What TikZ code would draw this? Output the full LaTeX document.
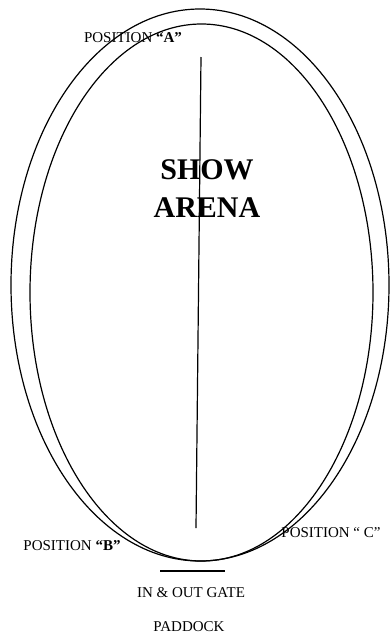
\documentclass[tikz,border=0pt]{standalone}
\usepackage{fontspec}
\setmainfont{Liberation Serif}
\usetikzlibrary{positioning}

\begin{document}
\begin{tikzpicture}[x=1pt, y=-1pt,
      every node/.style={font=\fontsize{15}{18}\selectfont, inner sep=0pt},
      track/.style={draw, line width=1.2pt},
      tag/.style={anchor=base},
      title/.style={font=\bfseries\fontsize{30}{38}\selectfont, align=center}]
    \useasboundingbox (0,0) rectangle (391,633);
    % the two rings of the arena
    \draw[track] (200,285) ellipse [x radius=189, y radius=276];
    \draw[track] (201.5,292.5) ellipse [x radius=171.5, y radius=268.5];
    % centre line
    \coordinate (lineTop) at (201,57);
    \coordinate (lineBot) at (196,528);
    \draw[line width=1.2pt] (lineTop) -- (lineBot);
    \node[title] (arena) at (207,189) {SHOW\\ARENA};
    % positions
    \node[tag] (posA) at (133,42) {POSITION \textbf{“A”}};
    \node[tag] (posB) at (72,550) {POSITION \textbf{“B”}};
    \node[tag] (posC) at (331,537) {POSITION “ C”};
    % gate
    \coordinate (gateL) at (160,571);
    \coordinate (gateR) at (225,571);
    \draw[line width=2.2pt] (gateL) -- (gateR);
    \node[tag] (gate) at (191,597) {IN \& OUT GATE};
    \node[tag] (paddock) at (189,631) {PADDOCK};
  \end{tikzpicture}
\end{document}
